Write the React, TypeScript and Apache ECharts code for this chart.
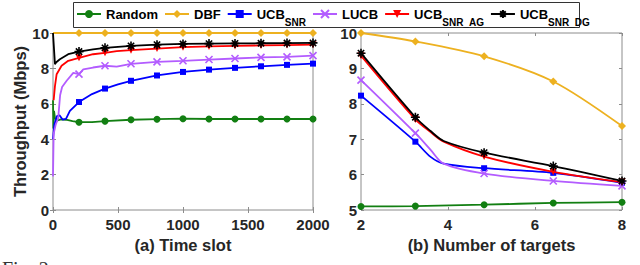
import React, { useEffect, useRef } from 'react';
import * as echarts from 'echarts';

const FONT = "'Liberation Sans', Arial, Helvetica, sans-serif";

const seriesNames = ['Random', 'DBF', 'UCB_SNR', 'LUCB', 'UCB_SNR_AG', 'UCB_SNR_DG'];
const seriesColors = ['#127f12', '#edb120', '#0000ff', '#b35cff', '#ff0000', '#000000'];

// (a) throughput vs time slot: [slot, Mbps]
const randomTime = [[0, 6.2], [3, 4.6], [8, 5.6], [15, 5.2], [30, 5.05], [60, 5.12], [100, 5.1], [150, 5.02], [200, 4.96], [300, 4.97], [400, 5.02], [600, 5.1], [800, 5.13], [1000, 5.16], [1200, 5.14], [1400, 5.14], [1600, 5.14], [1800, 5.14], [2000, 5.14]];
const dbfTime = [[0, 10], [200, 10], [400, 10], [600, 10], [800, 10], [1000, 10], [1200, 10], [1400, 10], [1600, 10], [1800, 10], [2000, 10]];
const ucbSnrTime = [[0, 4.0], [10, 4.8], [30, 5.3], [50, 5.35], [75, 5.1], [100, 5.15], [130, 5.6], [200, 6.1], [300, 6.55], [400, 6.86], [500, 7.1], [600, 7.3], [800, 7.6], [1000, 7.8], [1200, 7.93], [1400, 8.03], [1600, 8.12], [1800, 8.2], [2000, 8.27]];
const lucbTime = [[0, 1.9], [5, 4.3], [20, 4.8], [40, 5.2], [55, 6.5], [70, 6.95], [105, 7.3], [156, 7.75], [200, 7.68], [233, 7.95], [308, 8.05], [400, 8.15], [490, 8.1], [600, 8.26], [800, 8.37], [1000, 8.43], [1200, 8.5], [1400, 8.56], [1600, 8.62], [1800, 8.65], [2000, 8.72]];
const agTime = [[5, 6.2], [15, 7.0], [28, 7.67], [66, 8.15], [117, 8.43], [200, 8.6], [308, 8.8], [400, 8.88], [490, 8.98], [600, 9.03], [800, 9.12], [1000, 9.2], [1200, 9.24], [1400, 9.27], [1600, 9.3], [1800, 9.32], [2000, 9.34]];
const dgTime = [[0, 10], [15, 8.24], [25, 8.35], [53, 8.52], [117, 8.8], [200, 8.95], [308, 9.08], [400, 9.16], [600, 9.27], [800, 9.34], [1000, 9.38], [1200, 9.4], [1400, 9.41], [1600, 9.42], [1800, 9.43], [2000, 9.44]];
const timeMarkers = [200, 400, 600, 800, 1000, 1200, 1400, 1600, 1800, 2000];

// (b) throughput vs number of targets: [targets, Mbps]
const randomTargets = [[2, 5.1], [3.25, 5.11], [4.83, 5.15], [6.42, 5.2], [8, 5.22]];
const dbfTargets = [[2, 10], [3.25, 9.76], [4.83, 9.34], [6.42, 8.63], [8, 7.37]];
const ucbSnrTargets = [[2, 8.23], [3.25, 6.93], [3.6, 6.5], [3.9, 6.31], [4.83, 6.18], [6.42, 6.05], [8, 5.77]];
const lucbTargets = [[2, 8.67], [3.25, 7.17], [3.6, 6.7], [3.9, 6.31], [4.83, 6.03], [6.42, 5.82], [8, 5.68]];
const agTargets = [[2, 9.36], [3.25, 7.56], [3.6, 7.2], [3.9, 6.93], [4.83, 6.51], [6.42, 6.08], [8, 5.79]];
const dgTargets = [[2, 9.43], [3.25, 7.62], [3.6, 7.23], [3.9, 6.95], [4.83, 6.62], [6.42, 6.24], [8, 5.82]];
const targetMarkers = [2, 3.25, 4.83, 6.42, 8];

const timeTicks = { min: 0, max: 2000, interval: 500 };
const timeValueTicks = { min: 0, max: 10, interval: 2 };
const targetTicks = { min: 2, max: 8, interval: 2 };
const targetValueTicks = { min: 5, max: 10, interval: 1 };

const timeData = [randomTime, dbfTime, ucbSnrTime, lucbTime, agTime, dgTime];
const targetData = [randomTargets, dbfTargets, ucbSnrTargets, lucbTargets, agTargets, dgTargets];

const symbols = [
  { symbol: 'circle', size: 7 },
  { symbol: 'diamond', size: 8 },
  { symbol: 'rect', size: 6 },
  { symbol: 'path://M0,0L10,10M10,0L0,10', size: 7, stroke: true },
  { symbol: 'path://M0,0L10,0L5,9Z', size: 7 },
  { symbol: 'path://M5,0L5,10M0,5L10,5M1.5,1.5L8.5,8.5M8.5,1.5L1.5,8.5', size: 9, stroke: true },
];

const legendLabel: Record<string, string> = {
  Random: '{m|Random}',
  DBF: '{m|DBF}',
  UCB_SNR: '{m|UCB}{s|SNR}',
  LUCB: '{m|LUCB}',
  UCB_SNR_AG: '{m|UCB}{s|SNR_AG}',
  UCB_SNR_DG: '{m|UCB}{s|SNR_DG}',
};

const GRAY = '#8c8c8c';
const LABEL = '#262626';

function mkData(pts: number[][], marks: number[]) {
  return pts.map(([x, y]) => (marks.includes(x) ? [x, y] : { value: [x, y], symbol: 'none' }));
}

export default function App() {
  const ref = useRef<HTMLDivElement>(null);
  useEffect(() => {
    if (!ref.current) return;
    const chart = echarts.init(ref.current, null, { renderer: 'svg' });
    const labelStyle = { fontFamily: FONT, fontWeight: 'bold', fontSize: 15, color: LABEL };
    const nameStyle = { fontFamily: FONT, fontWeight: 'bold', fontSize: 16.5, color: LABEL };
    const tick = { show: true, inside: true, length: 3, lineStyle: { color: GRAY, width: 1 } };
    const fmt = (v: number) => String(v);
    const mainX = (gi: number, t: any, name: string) => ({
      type: 'value', gridIndex: gi, min: t.min, max: t.max, interval: t.interval,
      name, nameLocation: 'middle', nameGap: 25, nameTextStyle: nameStyle,
      axisLine: { show: false }, axisTick: tick, splitLine: { show: false },
      axisLabel: { ...labelStyle, margin: 7, showMinLabel: true, showMaxLabel: true, formatter: fmt },
    });
    const mainY = (gi: number, t: any, name: string) => ({
      type: 'value', gridIndex: gi, min: t.min, max: t.max, interval: t.interval,
      name, nameLocation: 'middle', nameGap: 20, nameTextStyle: nameStyle,
      axisLine: { show: false }, axisTick: tick, splitLine: { show: false },
      axisLabel: { ...labelStyle, margin: 4, showMinLabel: true, showMaxLabel: true, formatter: fmt },
    });
    const mirror = (gi: number, t: any, position: string) => ({
      type: 'value', gridIndex: gi, min: t.min, max: t.max, interval: t.interval, position,
      axisLine: { show: false }, axisTick: tick, splitLine: { show: false }, axisLabel: { show: false },
    });
    const series: any[] = [];
    [0, 1].forEach((gi) => {
      const dataSet = gi === 0 ? timeData : targetData;
      const marks = gi === 0 ? timeMarkers : targetMarkers;
      seriesNames.forEach((name, i) => {
        const sym = symbols[i];
        series.push({
          type: 'line', name, xAxisIndex: gi, yAxisIndex: gi,
          data: mkData(dataSet[i], marks),
          smooth: gi === 1 ? 0.3 : false,
          symbol: sym.symbol, symbolSize: sym.size, showSymbol: true,
          lineStyle: { color: seriesColors[i], width: 1.8 },
          itemStyle: sym.stroke
            ? { color: seriesColors[i], borderColor: seriesColors[i], borderWidth: 1.6 }
            : { color: seriesColors[i] },
          z: 2 + i,
        });
      });
    });
    chart.setOption({
      animation: false,
      backgroundColor: '#fff',
      grid: [
        { left: 53, top: 33, width: 260, height: 177, show: true, borderColor: GRAY, borderWidth: 1, backgroundColor: 'transparent' },
        { left: 361, top: 33, width: 261, height: 177, show: true, borderColor: GRAY, borderWidth: 1, backgroundColor: 'transparent' },
      ],
      xAxis: [
        mainX(0, timeTicks, '(a) Time slot'),
        mainX(1, targetTicks, '(b) Number of targets'),
        mirror(0, timeTicks, 'top'),
        mirror(1, targetTicks, 'top'),
      ],
      yAxis: [
        mainY(0, timeValueTicks, 'Throughput (Mbps)'),
        { ...mainY(1, targetValueTicks, ''), name: '' },
        mirror(0, timeValueTicks, 'right'),
        mirror(1, targetValueTicks, 'right'),
      ],
      legend: {
        data: seriesNames,
        left: 74, top: 7.5,
        orient: 'horizontal',
        itemWidth: 24, itemHeight: 10, itemGap: 6,
        padding: [0, 2, 0, 2],
        borderWidth: 0,
        formatter: (n: string) => legendLabel[n] || n,
        textStyle: {
          fontFamily: FONT, fontWeight: 'bold', fontSize: 13, color: '#000',
          rich: {
            m: { fontFamily: FONT, fontWeight: 'bold', fontSize: 13, color: '#000' },
            s: { fontFamily: FONT, fontWeight: 'bold', fontSize: 10, color: '#000', padding: [16, 0, 0, 0] },
          },
        },
      },
      graphic: [
        { type: 'rect', shape: { x: 73.5, y: 2.5, width: 506, height: 25 }, style: { fill: '#fff', stroke: '#333', lineWidth: 1 }, z: 0 },
        { type: 'text', left: 2, top: 259, style: { text: 'Fig. 2', font: "20px 'Liberation Serif', serif", fill: '#333' } },
      ],
      series,
    });
    return () => chart.dispose();
  }, []);
  return <div ref={ref} style={{ position: 'fixed', left: 0, top: 0, width: 640, height: 265 }} />;
}
